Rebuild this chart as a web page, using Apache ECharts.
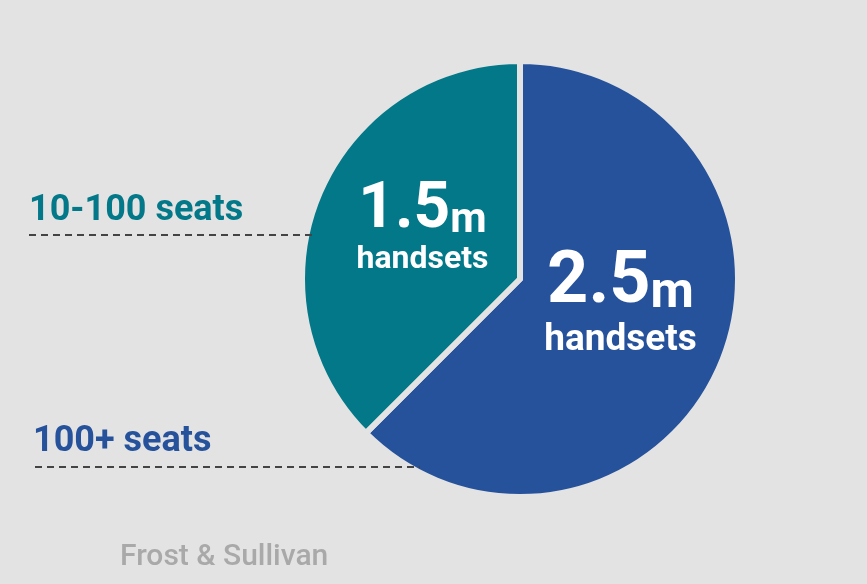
<!DOCTYPE html>
<html>
<head>
<meta charset="utf-8">
<script src="https://cdn.jsdelivr.net/npm/echarts@6/dist/echarts.min.js"></script>
<style>
  html, body { margin: 0; padding: 0; background: #e3e3e3; }
  #main { width: 867px; height: 584px; }
</style>
</head>
<body>
<div id="main"></div>
<script>
// data
var segNames = ['100+ seats', '10-100 seats'];
var segValues = [2.5, 1.5];
var segUnits = ['m', 'm'];
var segColors = ['#26529c', '#037888'];
var sourceText = 'Frost & Sullivan';

var chart = echarts.init(document.getElementById('main'));

var pieData = segNames.map(function (n, i) {
  return { name: n, value: segValues[i], itemStyle: { color: segColors[i] } };
});

var fontFam = 'Roboto, "DejaVu Sans", sans-serif';

var option = {
  backgroundColor: '#e3e3e3',
  animation: false,
  graphic: [
    // dashed leader lines
    { type: 'line', z: 10, shape: { x1: 29, y1: 235, x2: 312, y2: 235 },
      style: { stroke: '#444', lineWidth: 2, lineDash: [7, 5] } },
    { type: 'line', z: 10, shape: { x1: 35, y1: 467, x2: 420, y2: 467 },
      style: { stroke: '#444', lineWidth: 2, lineDash: [7, 5] } },
    { type: 'text', left: 29, top: 193,
      style: { text: segNames[1], fill: segColors[1], font: 'bold 36px ' + fontFam } },
    { type: 'text', left: 33, top: 424,
      style: { text: segNames[0], fill: segColors[0], font: 'bold 36px ' + fontFam } },
    { type: 'text', left: 120, top: 542,
      style: { text: sourceText, fill: '#a9a9a9', font: '500 30px ' + fontFam } }
  ],
  series: [{
    type: 'pie',
    center: [520, 279],
    radius: 218,
    startAngle: 90,
    clockwise: true,
    z: 3,
    data: pieData,
    itemStyle: { borderColor: '#e3e3e3', borderWidth: 6 },
    label: {
      show: true,
      position: 'inside',
      formatter: function (p) {
        var i = p.dataIndex;
        var big = i === 0 ? 'b0' : 'b1';
        var u = i === 0 ? 'u0' : 'u1';
        var h = i === 0 ? 'h0' : 'h1';
        return '{' + big + '|' + segValues[i] + '}{' + u + '|' + segUnits[i] + '}\n{' + h + '|handsets}';
      },
      rich: {
        b0: { color: '#fff', fontFamily: fontFam, fontWeight: 'bold', fontSize: 72, lineHeight: 72 },
        u0: { color: '#fff', fontFamily: fontFam, fontWeight: 'bold', fontSize: 50, lineHeight: 72, verticalAlign: 'bottom' },
        h0: { color: '#fff', fontFamily: fontFam, fontWeight: 'bold', fontSize: 37, lineHeight: 42 },
        b1: { color: '#fff', fontFamily: fontFam, fontWeight: 'bold', fontSize: 64, lineHeight: 62 },
        u1: { color: '#fff', fontFamily: fontFam, fontWeight: 'bold', fontSize: 42, lineHeight: 62, verticalAlign: 'bottom' },
        h1: { color: '#fff', fontFamily: fontFam, fontWeight: 'bold', fontSize: 32, lineHeight: 36 }
      }
    },
    labelLine: { show: false },
    labelLayout: function (p) {
      return p.dataIndex === 0 ? { dx: -3, dy: -17 } : { dx: 6, dy: -7 };
    }
  }]
};

chart.setOption(option);
</script>
</body>
</html>
